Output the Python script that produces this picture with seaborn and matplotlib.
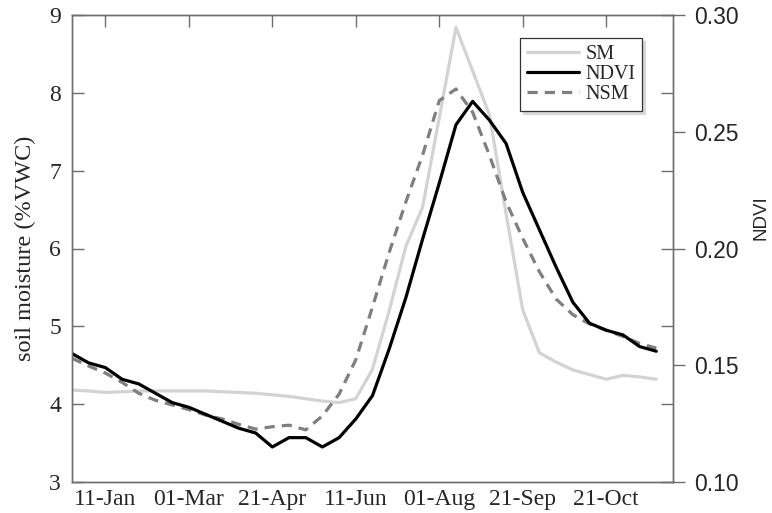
import numpy as np
import pandas as pd
import matplotlib
matplotlib.use("Agg")
import matplotlib.pyplot as plt
import seaborn as sns

# ---- data ----
period = list(range(36))  # dekad index
sm = [4.18, 4.17, 4.15, 4.16, 4.17, 4.17, 4.17, 4.17, 4.17, 4.16, 4.15, 4.14,
      4.12, 4.10, 4.07, 4.04, 4.02, 4.07, 4.45, 5.20, 6.03, 6.53, 7.68, 8.84,
      8.28, 7.72, 6.45, 5.21, 4.66, 4.54, 4.44, 4.38, 4.32, 4.37, 4.35, 4.32]
nsm = [4.59, 4.49, 4.40, 4.28, 4.14, 4.05, 3.99, 3.93, 3.86, 3.81, 3.74, 3.68,
       3.71, 3.73, 3.67, 3.85, 4.13, 4.57, 5.25, 5.95, 6.60, 7.20, 7.90, 8.05,
       7.75, 7.20, 6.60, 6.13, 5.70, 5.35, 5.15, 5.03, 4.95, 4.87, 4.78, 4.72]
ndvi = [0.155, 0.151, 0.149, 0.144, 0.142, 0.138, 0.134, 0.132, 0.129, 0.126,
        0.123, 0.121, 0.115, 0.119, 0.119, 0.115, 0.119, 0.127, 0.137, 0.157,
        0.179, 0.204, 0.228, 0.253, 0.263, 0.255, 0.245, 0.224, 0.208, 0.192,
        0.177, 0.168, 0.165, 0.163, 0.158, 0.156]
tick_pos = [2, 7, 12, 17, 22, 27, 32]
tick_labels = ["11-Jan", "01-Mar", "21-Apr", "11-Jun", "01-Aug", "21-Sep", "21-Oct"]

df = pd.DataFrame({"period": period, "SM": sm, "NSM": nsm, "NDVI": ndvi})

sns.set_theme(style="white")
plt.rcParams["font.family"] = ["Liberation Serif", "DejaVu Serif"]

spine_col = "#6e6e6e"
fig = plt.figure(figsize=(7.72, 5.13), dpi=100)
ax = fig.add_axes([72/772, 1-482/513, (673-72)/772, (482-15)/513])
ax2 = ax.twinx()

sns.lineplot(data=df, x="period", y="SM", ax=ax, color="#d3d3d3", lw=2.3, label="SM", legend=False)
sns.lineplot(data=df, x="period", y="NDVI", ax=ax2, color="black", lw=2.3, label="NDVI", legend=False)
sns.lineplot(data=df, x="period", y="NSM", ax=ax, color="#7f7f7f", lw=2.3,
             linestyle=(0, (3.2, 2.2)), label="NSM", legend=False)

ax.set_xlim(0, 36)
ax.set_ylim(3, 9)
ax2.set_ylim(0.10, 0.30)
ax.set_xticks(tick_pos)
ax.set_xticklabels(tick_labels)
ax.set_yticks(range(3, 10))
ax2.set_yticks([0.10, 0.15, 0.20, 0.25, 0.30])
ax2.set_yticklabels(["0.10", "0.15", "0.20", "0.25", "0.30"], family="Liberation Sans")

ax.set_xlabel("")
ax.set_ylabel("soil moisture (%VWC)", fontsize=17.5, labelpad=9)
ax2.set_ylabel("NDVI", fontsize=13.5, family="Liberation Sans", labelpad=10)
ax2.yaxis.set_label_coords(1.133, 0.567)

for a in (ax, ax2):
    for s in a.spines.values():
        s.set_color(spine_col)
        s.set_linewidth(1.0)

ax.tick_params(axis="both", which="major", direction="in", length=8.5, width=1.0,
               color=spine_col, labelsize=17, top=True, right=True,
               labelright=False, labeltop=False, pad=5)
ax.tick_params(axis="y", pad=8)
ax2.tick_params(axis="y", direction="out", length=8.5, width=1.0, color=spine_col,
                labelsize=16.5, pad=7, left=False)

# legend
h1, l1 = ax.get_legend_handles_labels()
h2, l2 = ax2.get_legend_handles_labels()
handles = [h1[0], h2[0], h1[1]]
labels = ["SM", "NDVI", "NSM"]
leg = ax2.legend(handles, labels, loc="upper left", bbox_to_anchor=(0.745, 0.951),
                 borderaxespad=0, frameon=True, fancybox=False,
                 shadow={"color": "#d8d8d8", "alpha": 1.0},
                 fontsize=14.5, handlelength=2.6, handletextpad=0.3,
                 labelspacing=0.05, borderpad=0.35)
leg.get_frame().set_edgecolor("#333333")
leg.get_frame().set_linewidth(0.9)

fig.savefig("out.png", dpi=100)
